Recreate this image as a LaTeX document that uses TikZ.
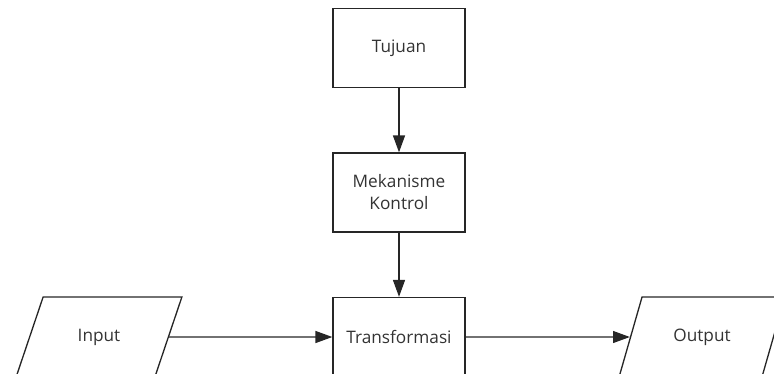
\documentclass[tikz,border=0pt]{standalone}
\usepackage{fontspec}
\setmainfont{Open Sans}
\usepackage{tikz}
\usetikzlibrary{shapes.geometric, arrows.meta, positioning}

\tikzset{
    box/.style={draw, rectangle, minimum width=132*0.02cm, minimum height=79*0.02cm, align=center},
    io/.style={draw, trapezium, trapezium left angle=65, trapezium right angle=115,
               trapezium stretches=true, minimum width=166*0.02cm, minimum height=80*0.02cm},
    flow/.style={-{Triangle[length=9.6pt,width=6.8pt]}}
}

\begin{document}
\begin{tikzpicture}[x=0.02cm, y=-0.02cm, line width=0.75pt, draw=black!85,
    every node/.style={font=\fontsize{9.8}{12.5}\selectfont, text=black!80}]
    \useasboundingbox (0,0) rectangle (774,373);
    \clip (0,0) rectangle (774,373);

    \node[box] (tujuan) at (399,48) {Tujuan};
    \node[box] (kontrol) at (399,192.5) {Mekanisme\\Kontrol};
    \node[box] (trans) at (399,337) {Transformasi};

    \node[io] (input) at (99,337) {Input};
    \node[io] (output) at (702,337) {Output};

    \draw[flow] (tujuan) -- (kontrol);
    \draw[flow] (kontrol) -- (trans);
    \draw[flow] (input) -- (trans);
    \draw[flow] (trans) -- (output);

\end{tikzpicture}
\end{document}
